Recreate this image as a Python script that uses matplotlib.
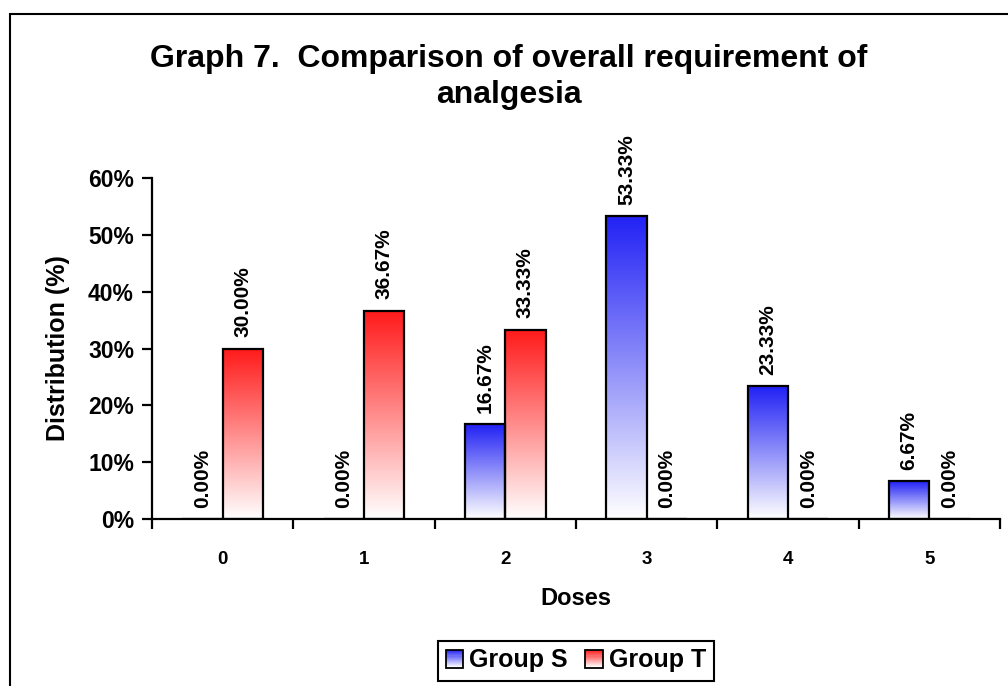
import matplotlib
matplotlib.use("Agg")
import matplotlib.pyplot as plt
import numpy as np
from matplotlib.patches import Rectangle, Patch
from matplotlib.legend_handler import HandlerBase
from matplotlib.ticker import PercentFormatter, FixedLocator

plt.rcParams.update({
    "font.family": ["Liberation Sans", "DejaVu Sans"],
    "font.weight": "bold",
})

# ---- data ----
doses = ["0", "1", "2", "3", "4", "5"]
group_s = [0.00, 0.00, 16.67, 53.33, 23.33, 6.67]   # %
group_t = [30.00, 36.67, 33.33, 0.00, 0.00, 0.00]   # %
series_names = ["Group S", "Group T"]

BLUE = np.array([0.13, 0.13, 0.96])
RED = np.array([1.0, 0.10, 0.10])
WHITE = np.array([1.0, 1.0, 1.0])

W, H, DPI = 1008, 686, 100
fig = plt.figure(figsize=(W / DPI, H / DPI), dpi=DPI)

# chart-area frame (Excel style)
fig.patches.append(Rectangle((9.5 / W, -0.02), 1.05, 1 - 13.5 / H + 0.02,
                             transform=fig.transFigure, fill=False,
                             edgecolor="black", linewidth=1.5))

ax = fig.add_axes([152 / W, 1 - 519 / H, (1000 - 152) / W, (519 - 178) / H])

x = np.arange(len(doses))
bw = 0.285


def grad_bars(xpos, vals, color):
    bars = ax.bar(xpos, vals, bw, facecolor="none", edgecolor="black",
                  linewidth=1.6, zorder=3)
    grad = np.linspace(0, 1, 256)[:, None, None]
    img = WHITE * (1 - grad) + color * grad
    for rect, v in zip(bars, vals):
        if v <= 0:
            continue
        x0 = rect.get_x()
        ax.imshow(img, extent=[x0, x0 + rect.get_width(), 0, v], origin="lower",
                  aspect="auto", zorder=2, interpolation="bilinear")
    for rect, v in zip(bars, vals):
        ax.annotate(f"{v:.2f}%", (rect.get_x() + rect.get_width() / 2, v),
                    xytext=(0, 8), textcoords="offset points", rotation=90,
                    ha="center", va="bottom", fontsize=15, fontweight="bold")
    return bars


grad_bars(x - bw / 2, group_s, BLUE)
grad_bars(x + bw / 2, group_t, RED)

ax.set_xlim(-0.5, len(doses) - 0.5)
ax.set_ylim(0, 60)
ax.yaxis.set_major_locator(FixedLocator(np.arange(0, 61, 10)))
ax.yaxis.set_major_formatter(PercentFormatter(100, decimals=0))
ax.set_xticks(x)
ax.set_xticklabels(doses, fontsize=13.5, fontweight="bold")
ax.set_xticks(np.arange(-0.5, len(doses)), minor=True)
ax.tick_params(axis="x", which="major", length=0, pad=23)
ax.tick_params(axis="x", which="minor", length=7, width=1.6, direction="out")
ax.tick_params(axis="y", length=7, width=1.6, direction="out", labelsize=16.5, pad=6)
for s in ("top", "right"):
    ax.spines[s].set_visible(False)
for s in ("left", "bottom"):
    ax.spines[s].set_linewidth(1.6)

ax.set_xlabel("Doses", fontsize=17, fontweight="bold", labelpad=14)
ax.set_ylabel("Distribution (%)", fontsize=18, fontweight="bold", labelpad=13)

fig.text(0.505, 1 - 77 / H, "Graph 7.  Comparison of overall requirement of\nanalgesia",
         ha="center", va="center", fontsize=23, fontweight="bold", linespacing=1.3)


class GradHandler(HandlerBase):
    def __init__(self, color):
        super().__init__()
        self.color = color

    def create_artists(self, legend, orig_handle, xdescent, ydescent,
                       width, height, fontsize, trans):
        n = 16
        side = height
        x0 = -xdescent + (width - side) / 2
        y0 = -ydescent
        arts = []
        for i in range(n):
            f = (i + 0.5) / n
            c = WHITE * (1 - f) + self.color * f
            arts.append(Rectangle((x0, y0 + i * side / n), side, side / n + 0.05,
                                  facecolor=c, edgecolor="none", transform=trans))
        arts.append(Rectangle((x0, y0), side, side, fill=False, edgecolor="black",
                              linewidth=1.3, transform=trans))
        return arts


h_s = Patch(label=series_names[0])
h_t = Patch(label=series_names[1])
leg = fig.legend([h_s, h_t], series_names, loc="center",
                 bbox_to_anchor=(576 / W, 1 - 660.5 / H), ncol=2,
                 handler_map={h_s: GradHandler(BLUE), h_t: GradHandler(RED)},
                 prop={"size": 18, "weight": "bold"}, frameon=True, fancybox=False,
                 edgecolor="black", framealpha=1, borderpad=0.32,
                 handlelength=0.7, handleheight=0.7, handletextpad=0.25,
                 columnspacing=0.7, borderaxespad=0)
leg.get_frame().set_linewidth(1.5)

fig.savefig("out.png", dpi=DPI)
